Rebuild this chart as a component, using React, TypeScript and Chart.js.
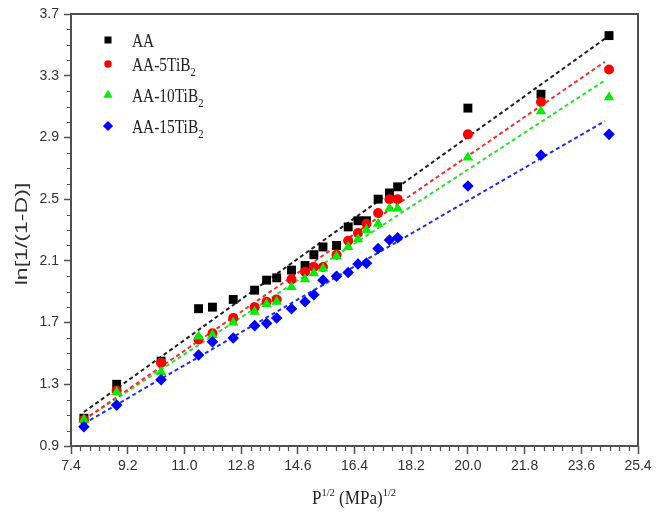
import { useEffect, useRef } from 'react';
import { Chart, registerables } from 'chart.js';

Chart.register(...registerables);

// ---- data ----
const xValues = [7.81, 8.85, 10.26, 11.45, 11.89, 12.55, 13.23, 13.61, 13.93, 14.4, 14.83, 15.11, 15.4, 15.83, 16.2, 16.51, 16.78, 17.15, 17.51, 17.77, 20.0, 22.32, 24.48];
const aaValues = [1.08, 1.3, 1.45, 1.79, 1.8, 1.85, 1.91, 1.975, 1.99, 2.04, 2.07, 2.14, 2.19, 2.2, 2.32, 2.36, 2.36, 2.5, 2.54, 2.58, 3.09, 3.18, 3.56];
const aa5Values = [1.07, 1.26, 1.44, 1.59, 1.63, 1.73, 1.8, 1.835, 1.85, 1.98, 2.03, 2.06, 2.06, 2.14, 2.23, 2.28, 2.34, 2.41, 2.5, 2.5, 2.92, 3.13, 3.34];
const aa10Values = [1.07, 1.25, 1.38, 1.61, 1.62, 1.7, 1.77, 1.82, 1.835, 1.93, 1.98, 2.02, 2.05, 2.13, 2.19, 2.24, 2.3, 2.34, 2.44, 2.44, 2.77, 3.07, 3.16];
const aa15Values = [1.025, 1.165, 1.33, 1.49, 1.575, 1.6, 1.68, 1.695, 1.73, 1.79, 1.835, 1.88, 1.975, 2.0, 2.025, 2.08, 2.085, 2.18, 2.235, 2.25, 2.585, 2.785, 2.92];

// linear-fit lines (end points)
const fitX = [7.81, 24.35];
const aaFit = [1.12, 3.54];
const aa5Fit = [1.07, 3.39];
const aa10Fit = [1.07, 3.27];
const aa15Fit = [1.045, 3.006];

const seriesNames = ['AA', 'AA-5TiB', 'AA-10TiB', 'AA-15TiB'];
const seriesSubs = ['', '2', '2', '2'];
const xTickLabels = ['7.4', '9.2', '11.0', '12.8', '14.6', '16.4', '18.2', '20.0', '21.8', '23.6', '25.4'];
const yTickLabels = ['0.9', '1.3', '1.7', '2.1', '2.5', '2.9', '3.3', '3.7'];

const markerColors = ['#000000', '#ff0000', '#00ee00', '#0000ff'];
const lineColors = ['#222222', '#f03030', '#30dd30', '#2030f0'];
const pointStyles = ['rect', 'circle', 'triangle', 'rectRot'];
const pointRadii = [6.3, 5, 6, 5.8];

const xTickValues = xTickLabels.map(Number);
const yTickValues = yTickLabels.map(Number);

const AXIS_COLOR = '#505050';
const TICK_FONT = "'Liberation Sans', Arial, sans-serif";
const SERIF = "'Liberation Serif', 'Times New Roman', serif";

function pts(vals: number[]) {
  return xValues.map((x, i) => ({ x, y: vals[i] }));
}
function fitPts(vals: number[]) {
  return fitX.map((x, i) => ({ x, y: vals[i] }));
}

function drawMarker(ctx: CanvasRenderingContext2D, style: string, x: number, y: number, s: number, color: string) {
  ctx.save();
  ctx.fillStyle = color;
  ctx.beginPath();
  if (style === 'rect') {
    ctx.rect(x - s / 2, y - s / 2, s, s);
  } else if (style === 'circle') {
    ctx.arc(x, y, s / 2, 0, Math.PI * 2);
  } else if (style === 'triangle') {
    const r = s * 0.62;
    ctx.moveTo(x, y - r);
    ctx.lineTo(x + r * 0.866, y + r * 0.5);
    ctx.lineTo(x - r * 0.866, y + r * 0.5);
    ctx.closePath();
  } else {
    const r = s * 0.6;
    ctx.moveTo(x, y - r);
    ctx.lineTo(x + r, y);
    ctx.lineTo(x, y + r);
    ctx.lineTo(x - r, y);
    ctx.closePath();
  }
  ctx.fill();
  ctx.restore();
}

function scaledText(ctx: CanvasRenderingContext2D, text: string, x: number, y: number, font: string, sx: number) {
  ctx.save();
  ctx.font = font;
  ctx.translate(x, y);
  ctx.scale(sx, 1);
  ctx.fillText(text, 0, 0);
  const w = ctx.measureText(text).width * sx;
  ctx.restore();
  return w;
}

const decorPlugin = {
  id: 'decor',
  afterDraw(chart: any) {
    const ctx: CanvasRenderingContext2D = chart.ctx;
    const { left, right, top, bottom } = chart.chartArea;
    const xs = chart.scales.x;
    const ys = chart.scales.y;
    ctx.save();
    // frame
    ctx.strokeStyle = AXIS_COLOR;
    ctx.lineWidth = 2;
    ctx.strokeRect(left, top, right - left, bottom - top);
    // minor ticks
    ctx.lineWidth = 1.2;
    ctx.beginPath();
    for (let i = 0; i <= 60; i++) {
      if (i % 6 === 0) continue;
      const px = Math.round(xs.getPixelForValue(7.4 + i * 0.3)) + 0.5;
      ctx.moveTo(px, bottom);
      ctx.lineTo(px, bottom + 5);
    }
    for (let i = 0; i <= 28; i++) {
      if (i % 4 === 0) continue;
      const py = Math.round(ys.getPixelForValue(0.9 + i * 0.1)) + 0.5;
      ctx.moveTo(left, py);
      ctx.lineTo(left - 4, py);
    }
    ctx.stroke();

    // legend
    const rows = [40, 64, 95, 126];
    const mSizes = [7, 7.5, 8.5, 8.5];
    ctx.textBaseline = 'alphabetic';
    ctx.textAlign = 'left';
    seriesNames.forEach((name, i) => {
      drawMarker(ctx, pointStyles[i], 108, rows[i], mSizes[i], markerColors[i]);
      ctx.fillStyle = '#222';
      const w = scaledText(ctx, name, 132, rows[i] + 6.5, `19px ${SERIF}`, 0.81);
      if (seriesSubs[i]) scaledText(ctx, seriesSubs[i], 132 + w, rows[i] + 12, `13px ${SERIF}`, 0.81);
    });

    // x title: P^{1/2} (MPa)^{1/2}
    const parts: [string, number, number][] = [
      ['P', 18, 0],
      ['1/2', 11, -8],
      [' (MPa)', 18, 0],
      ['1/2', 11, -8],
    ];
    const sxT = 0.95;
    let total = 0;
    parts.forEach(([t, s]) => {
      ctx.font = `${s}px ${SERIF}`;
      total += ctx.measureText(t).width * sxT;
    });
    let cx = 354 - total / 2;
    ctx.fillStyle = '#222';
    parts.forEach(([t, s, dy]) => {
      cx += scaledText(ctx, t, cx, 504 + dy, `${s}px ${SERIF}`, sxT);
    });

    // y title
    ctx.save();
    ctx.translate(22, 234);
    ctx.rotate(-Math.PI / 2);
    ctx.scale(1.1, 0.78);
    ctx.font = `21px ${TICK_FONT}`;
    ctx.textAlign = 'center';
    ctx.textBaseline = 'middle';
    ctx.fillStyle = '#333';
    ctx.fillText('ln[1/(1-D)]', 0, 0);
    ctx.restore();

    ctx.restore();
  },
};

export default function App() {
  const ref = useRef<HTMLCanvasElement | null>(null);
  useEffect(() => {
    const canvas = ref.current;
    if (!canvas) return;
    const fits = [aaFit, aa5Fit, aa10Fit, aa15Fit];
    const vals = [aaValues, aa5Values, aa10Values, aa15Values];
    const lineSets = fits.map((f, i) => ({
      type: 'line' as const,
      label: seriesNames[i] + ' fit',
      data: fitPts(f),
      borderColor: lineColors[i],
      borderWidth: 2,
      borderDash: [4, 3],
      pointRadius: 0,
      showLine: true,
      fill: false,
      order: 10,
    }));
    const pointSets = vals.map((v, i) => ({
      type: 'scatter' as const,
      label: seriesNames[i] + seriesSubs[i],
      data: pts(v),
      pointStyle: pointStyles[i],
      pointRadius: pointRadii[i],
      pointBackgroundColor: markerColors[i],
      pointBorderColor: markerColors[i],
      pointBorderWidth: 0,
      showLine: false,
      order: 4 - i,
    }));
    const chart = new Chart(canvas, {
      type: 'scatter',
      data: { datasets: [...lineSets, ...pointSets] as any },
      options: {
        animation: false,
        responsive: false,
        maintainAspectRatio: false,
        layout: { padding: { top: 14, right: 30, left: 0, bottom: 0 } },
        plugins: { legend: { display: false }, tooltip: { enabled: false } },
        scales: {
          x: {
            type: 'linear',
            min: 7.4,
            max: 25.4,
            afterBuildTicks: (s: any) => {
              s.ticks = xTickValues.map((v) => ({ value: v }));
            },
            afterFit: (s: any) => {
              s.height = 71;
            },
            ticks: {
              autoSkip: false,
              maxRotation: 0,
              padding: 4,
              color: '#333',
              font: { family: TICK_FONT, size: 14 },
              callback: (_v: any, i: number) => xTickLabels[i],
            },
            grid: { drawOnChartArea: false, tickLength: 8, tickColor: AXIS_COLOR, tickWidth: 1.5 },
            border: { display: false },
          },
          y: {
            type: 'linear',
            min: 0.9,
            max: 3.7,
            afterBuildTicks: (s: any) => {
              s.ticks = yTickValues.map((v) => ({ value: v }));
            },
            afterFit: (s: any) => {
              s.width = 71;
            },
            ticks: {
              autoSkip: false,
              padding: 5,
              color: '#333',
              font: { family: TICK_FONT, size: 14 },
              callback: (_v: any, i: number) => yTickLabels[i],
            },
            grid: { drawOnChartArea: false, tickLength: 7, tickColor: AXIS_COLOR, tickWidth: 1.5 },
            border: { display: false },
          },
        },
      } as any,
      plugins: [decorPlugin],
    });
    return () => chart.destroy();
  }, []);
  return (
    <div style={{ position: 'fixed', left: 0, top: 0, width: 668, height: 517, background: '#fff' }}>
      <canvas ref={ref} width={668} height={517} style={{ width: 668, height: 517, display: 'block' }} />
    </div>
  );
}
